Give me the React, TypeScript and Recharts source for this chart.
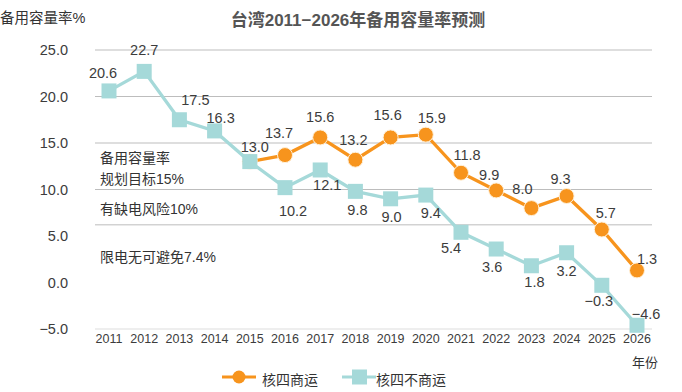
import React from 'react';
import { LineChart, Line, XAxis, YAxis, ReferenceLine, LabelList, Legend } from 'recharts';

const years = ['2011', '2012', '2013', '2014', '2015', '2016', '2017', '2018', '2019', '2020', '2021', '2022', '2023', '2024', '2025', '2026'];
// 核四商运 (starts 2015)
const withPlant = [null, null, null, null, 13.0, 13.7, 15.6, 13.2, 15.6, 15.9, 11.8, 9.9, 8.0, 9.3, 5.7, 1.3];
// 核四不商运
const withoutPlant = [20.6, 22.7, 17.5, 16.3, 13.0, 10.2, 12.1, 9.8, 9.0, 9.4, 5.4, 3.6, 1.8, 3.2, -0.3, -4.6];
const yTicks = [-5, 0, 5, 10, 15, 20, 25];
const gridValues = [25, 20, 15, 10, 6.2];

const ORANGE = '#f7941d';
const TEAL = '#a5d9d9';
const FONT = '"Liberation Sans", Arial, "Noto Sans CJK SC", sans-serif';

// label offsets (dx, dy) from the point, per year
const tealOffsets: [number, number][] = [
  [-6, -18], [0, -21], [16, -20], [6, -13], [5, -15], [8, 23], [7, 15], [2, 19],
  [1, 18], [5, 18], [-10, 16], [-4, 18], [3, 16], [0, 18], [-3, 16], [9, -11],
];
const orangeOffsets: [number, number][] = [
  [0, 0], [0, 0], [0, 0], [0, 0], [0, 0], [-6, -22], [0, -20], [-2, -20],
  [-3, -22], [6, -17], [6, -18], [-7, -15], [-9, -19], [-6, -17], [4, -16], [10, -11],
];

const data = years.map((year, i) => ({ year, withPlant: withPlant[i], withoutPlant: withoutPlant[i] }));

const fmt = (v: number) => (v < 0 ? '−' + Math.abs(v).toFixed(1) : v.toFixed(1));

const makeLabel = (offsets: [number, number][], skip: number[]) => (props: any) => {
  const { x, y, value, index } = props;
  if (value === null || value === undefined || skip.includes(index)) return null;
  const [dx, dy] = offsets[index];
  return (
    <text x={x + dx} y={y + dy} textAnchor="middle" dominantBaseline="central"
      fontSize={14.5} fontFamily={FONT} fill="#3c3c3c">
      {fmt(value)}
    </text>
  );
};

const SquareDot = (props: any) => {
  const { cx, cy } = props;
  if (cx == null || cy == null) return null;
  return <rect x={cx - 7.5} y={cy - 7.5} width={15} height={15} fill={TEAL} />;
};

const LegendContent = () => (
  <div style={{ display: 'flex', justifyContent: 'flex-start', fontFamily: FONT, fontSize: 14, color: '#333', paddingLeft: 222 }}>
    <svg width={34} height={16} style={{ marginRight: 6 }}>
      <line x1={0} y1={8} x2={34} y2={8} stroke={ORANGE} strokeWidth={3} />
      <circle cx={17} cy={8} r={6.5} fill={ORANGE} />
    </svg>
    <span style={{ marginRight: 24 }}>核四商运</span>
    <svg width={34} height={16} style={{ marginRight: 0 }}>
      <line x1={0} y1={8} x2={34} y2={8} stroke={TEAL} strokeWidth={3} />
      <rect x={10} y={0.5} width={15} height={15} fill={TEAL} />
    </svg>
    <span>核四不商运</span>
  </div>
);

export default function App() {
  return (
    <div style={{ position: 'absolute', left: 0, top: 0, width: 682, height: 392, background: '#fff' }}>
      <LineChart width={682} height={392} data={data} margin={{ top: 50, right: 30, left: 35, bottom: 33 }}>
        {gridValues.map((v) => (
          <ReferenceLine key={v} y={v} stroke="#bdbdbd" strokeWidth={1} ifOverflow="extendDomain" />
        ))}
        <ReferenceLine y={-5} stroke="#dddddd" strokeWidth={1} />
        <XAxis dataKey="year" axisLine={false} tickLine={false} tickSize={0} tickMargin={5} height={30}
          padding={{ left: 14, right: 15 }} interval={0}
          tick={{ fill: '#3c3c3c', fontSize: 12.5, fontFamily: FONT }} />
        <YAxis domain={[-5, 25]} ticks={yTicks} axisLine={false} tickLine={false} tickSize={0} tickMargin={27}
          width={60} tickFormatter={fmt} tick={{ fill: '#3c3c3c', fontSize: 14.5, fontFamily: FONT }} />
        <Legend verticalAlign="middle" align="center" content={LegendContent}
          wrapperStyle={{ top: 369, left: 0, width: 682 }} />
        <Line dataKey="withPlant" name="核四商运" stroke={ORANGE} strokeWidth={3.3} isAnimationActive={false}
          dot={{ r: 7.5, fill: ORANGE, stroke: '#fff2dc', strokeWidth: 1 }} activeDot={false} connectNulls={false}>
          <LabelList dataKey="withPlant" content={makeLabel(orangeOffsets, [4])} />
        </Line>
        <Line dataKey="withoutPlant" name="核四不商运" stroke={TEAL} strokeWidth={3.3} isAnimationActive={false}
          dot={<SquareDot />} activeDot={false}>
          <LabelList dataKey="withoutPlant" content={makeLabel(tealOffsets, [])} />
        </Line>
      </LineChart>
      <svg width={682} height={392} style={{ position: 'absolute', left: 0, top: 0, pointerEvents: 'none' }}>
        <text x={358} y={20} textAnchor="middle" dominantBaseline="central" fontSize={17} fontWeight="bold"
          fontFamily={FONT} fill="#555">台湾2011−2026年备用容量率预测</text>
        <text x={0} y={18} dominantBaseline="central" fontSize={14.5} fontFamily={FONT} fill="#333">备用容量率%</text>
        <text x={100} y={158} dominantBaseline="central" fontSize={14} fontFamily={FONT} fill="#333">备用容量率</text>
        <text x={100} y={179} dominantBaseline="central" fontSize={14} fontFamily={FONT} fill="#333">规划目标15%</text>
        <text x={100} y={209} dominantBaseline="central" fontSize={14} fontFamily={FONT} fill="#333">有缺电风险10%</text>
        <text x={100} y={257} dominantBaseline="central" fontSize={14} fontFamily={FONT} fill="#333">限电无可避免7.4%</text>
        <text x={658} y={362} textAnchor="end" dominantBaseline="central" fontSize={13} fontFamily={FONT} fill="#333">年份</text>
      </svg>
    </div>
  );
}
